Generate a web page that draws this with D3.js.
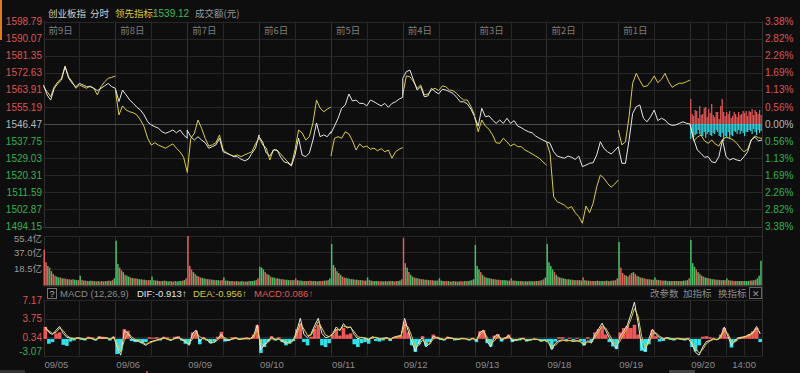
<!DOCTYPE html>
<html><head><meta charset="utf-8">
<script src="https://cdn.jsdelivr.net/npm/d3@7"></script>
<style>
html,body{margin:0;padding:0;background:#0e0e0e;}
svg{display:block;}
text{font-family:"Liberation Sans","Noto Sans CJK SC",sans-serif;}
text.cjk{font-family:"Noto Sans CJK SC","Noto Sans",sans-serif;}
</style></head><body>
<svg id="c" width="800" height="373"></svg>
<script>
// ---------- data ----------
const dayLabels = ["前9日","前8日","前7日","前6日","前5日","前4日","前3日","前2日","前1日"];
const dateLabels = ["09/05","09/06","09/09","09/10","09/11","09/12","09/13","09/18","09/19","09/20"];
const priceTicks = [1598.79,1590.07,1581.35,1572.63,1563.91,1555.19,1546.47,1537.75,1529.03,1520.31,1511.59,1502.87,1494.15];
const pctTicks = ["3.38%","2.82%","2.26%","1.69%","1.13%","0.56%","0.00%","0.56%","1.13%","1.69%","2.26%","2.82%","3.38%"];
const volTicks = [55.4, 37.0, 18.5];
const macdTicks = [7.17, 3.75, 0.34, -3.07];
const prevClose = 1546.47;
const leadLast = "1539.12";

// 创业板指 (white), 21 samples per day
const indexLine = [
 [1566.4,1561.3,1558.7,1564.7,1567.2,1568.9,1575.7,1569.8,1567.2,1565.5,1567.2,1566.4,1565.5,1565.5,1564.7,1563.5,1564.7,1565.9,1567.2,1565.5,1564.7],
 [1564.7,1557.9,1563.8,1561.3,1558.7,1557.0,1555.0,1553.6,1551.1,1547.6,1546.0,1545.1,1544.3,1542.5,1541.7,1542.5,1543.4,1542.0,1543.4,1540.9,1539.2],
 [1543.4,1540.0,1538.3,1540.0,1538.3,1536.9,1534.1,1534.9,1535.8,1539.2,1532.3,1531.5,1530.7,1529.8,1529.8,1528.5,1527.7,1528.5,1531.5,1534.1,1540.9],
 [1540.0,1537.3,1531.7,1530.1,1533.2,1533.2,1529.6,1527.1,1526.6,1525.0,1530.6,1539.3,1530.6,1529.8,1531.7,1538.3,1547.0,1540.0,1540.9,1540.0,1542.5],
 [1541.7,1545.4,1549.4,1554.5,1556.2,1561.8,1558.2,1558.7,1557.0,1557.0,1555.7,1558.7,1557.8,1556.7,1555.7,1557.0,1555.0,1557.0,1557.8,1559.2,1560.1],
 [1569.8,1573.2,1574.0,1568.9,1563.8,1565.5,1560.4,1560.8,1564.7,1563.0,1561.8,1564.2,1563.8,1563.0,1562.1,1560.1,1557.8,1557.8,1556.7,1554.0,1550.2],
 [1550.2,1545.4,1554.5,1550.2,1550.6,1548.5,1546.8,1548.5,1546.8,1549.4,1546.8,1548.2,1545.4,1544.6,1543.4,1542.5,1542.0,1540.3,1539.2,1538.3,1537.4],
 [1537.4,1536.6,1532.3,1530.1,1529.5,1529.0,1530.1,1529.5,1528.4,1530.1,1524.7,1525.5,1526.4,1526.7,1530.7,1537.4,1534.0,1532.3,1531.2,1532.8,1534.9],
 [1534.9,1526.4,1526.4,1538.3,1551.9,1555.3,1556.2,1549.4,1547.6,1550.2,1553.6,1548.2,1549.4,1548.5,1546.5,1545.8,1546.0,1546.8,1547.6,1546.8,1546.47],
 [1546.0,1538.7,1533.2,1531.5,1529.5,1529.8,1527.2,1526.7,1529.8,1538.3,1529.8,1528.1,1528.9,1528.1,1527.7,1529.8,1532.3,1538.3,1539.7,1537.9,1538.3]
];
// 领先指标 (yellow), 21 samples per day
const leadLine = [
 [1565.5,1563.0,1560.4,1565.5,1568.0,1569.8,1576.1,1570.6,1568.0,1564.7,1566.4,1565.5,1564.7,1565.9,1564.7,1561.3,1565.5,1568.0,1569.8,1570.3,1571.0],
 [1563.8,1551.1,1555.7,1553.6,1552.7,1552.2,1551.1,1548.5,1545.1,1539.2,1535.7,1536.9,1535.7,1534.9,1534.1,1535.3,1536.3,1534.1,1532.3,1529.5,1522.1],
 [1521.5,1539.2,1541.7,1548.5,1544.3,1539.2,1535.2,1535.8,1536.9,1540.9,1533.2,1531.8,1530.7,1530.1,1530.7,1529.8,1530.7,1531.5,1532.3,1536.3,1539.2],
 [1539.8,1535.8,1534.2,1528.1,1533.2,1533.2,1531.2,1529.1,1527.1,1525.5,1533.2,1543.4,1541.9,1538.3,1540.0,1547.0,1558.7,1554.6,1552.7,1554.1,1555.1],
 [1530.1,1539.2,1540.0,1539.2,1542.5,1541.4,1537.9,1533.2,1536.3,1534.6,1535.2,1533.6,1534.1,1532.8,1533.9,1532.3,1533.2,1529.0,1532.3,1533.6,1534.4],
 [1561.3,1571.0,1570.6,1568.1,1564.7,1566.4,1561.3,1561.8,1563.8,1564.7,1563.5,1565.9,1565.5,1563.8,1563.5,1562.1,1560.1,1558.7,1558.7,1555.3,1551.1],
 [1550.2,1542.5,1548.5,1545.4,1543.8,1540.9,1536.9,1536.6,1539.2,1537.4,1535.2,1536.3,1534.9,1534.9,1533.2,1532.3,1531.2,1530.1,1529.0,1527.2,1525.5],
 [1537.4,1531.5,1509.4,1506.8,1506.0,1505.1,1503.4,1504.3,1501.2,1499.2,1495.8,1504.6,1501.2,1506.0,1514.5,1520.4,1518.8,1516.2,1514.2,1515.8,1517.9],
 [1543.4,1535.8,1537.4,1550.2,1567.3,1572.3,1568.6,1565.5,1565.9,1568.1,1571.0,1567.6,1569.3,1572.3,1568.1,1565.2,1566.4,1567.3,1567.3,1568.1,1568.9],
 [1546.0,1537.9,1539.7,1540.9,1537.9,1536.6,1538.3,1536.3,1535.2,1538.7,1539.7,1539.2,1538.3,1536.6,1534.1,1532.3,1533.6,1538.3,1540.4,1539.5,1539.12]
];
// today's buy (red, up) / sell (cyan, down) strength bars
const todayUp = [25,10,8,14,13,6,18,9,10,16,17,7,15,11,20,9,7,12,12,5,18,25,12,8,12,10,13,6,8,12,10,7,12,9,10,13,11,13,8,13,12,15,9,14,12,10,14,9];
const todayDown = [15,9,13,11,10,6,10,12,12,8,14,10,8,11,12,9,10,6,8,12,13,9,17,12,13,8,15,11,12,7,8,10,6,10,7,9,12,8,8,6,7,10,5,8,11,6,9,7];

// 成交额 (亿), 40 bars per day
const volume = [
 [40,26,22,20,16,13,11,10,9,9,8,8,7.5,7,7,6.5,7,6.5,6,6,11,6,5.5,5.5,5,5,5.5,5,5,4.5,5,4.5,5,4.5,5,5,5.5,5,6,8],
 [50,24,20,17,15,12,11,10,9,8.5,8,8,7.5,7,7,6.5,6.5,6,6,6,10,6,5.5,5.5,5,5,5,5.5,5,4.5,5,4.5,4.5,5,4.5,5,5,5.5,6,8],
 [55.4,22,18,15,13,11,10,9,8.5,8,7.5,7,7,6.5,6.5,6,6,6,5.5,6,9,5.5,5.5,5,5,5,4.5,5,4.5,4.5,5,4.5,4.5,4.5,5,5,5,5.5,6,8],
 [21,20,18,15,13,12,10,9,9,8,8,7.5,7,7,6.5,6.5,6,6,6,6,8,6,5.5,5.5,5,5,5,5,5.5,5,5,5,4.5,5,5,5,5.5,5.5,6,8],
 [46.5,23,20,16,14,12,10,9,8.5,8,7.5,7,7,6.5,6.5,6,6,6,5.5,5.5,9,6,5.5,5,5,5,5,4.5,5,4.5,5,4.5,5,5,5,4.5,5,5,5.5,7],
 [53,25,20,15,12,10,9,8.5,8,7.5,7,7,6.5,6.5,6,6,6,5.5,5.5,5.5,8,5.5,5,5,5,5,4.5,4.5,5,4.5,4.5,4.5,5,4.5,5,5,5,5.5,6,7],
 [45.4,22,18,15,12,10,9,8.5,8,7.5,7,7,6.5,6.5,6,6,6,6,5.5,5.5,8,5.5,5.5,5,5,5,5,4.5,5,4.5,5,5,4.5,5,5,5,5.5,6,7,9],
 [46.5,26,22,18,15,12,10,9,8.5,8,7.5,7,7,6.5,6.5,6,6,6,6,5.5,9,6,5.5,5.5,5,5,5,5,5.5,5,5,5,5,5.5,5,5,5.5,5.5,6,8],
 [48.7,20,14,12,11,10,12,14,15,13,11,10,9,8.5,8,7.5,7,7,6.5,6.5,9,6.5,6,6,5.5,5.5,5.5,5,5,5,5,5,5,5,5,5,5.5,5.5,6,8],
 [51,25,21,18,15,13,11,10,9,8.5,8,7.5,7,7,6.5,6.5,6,6,6,6,8,6,5.5,5.5,5,5,5,5,5,5,5,5,5,5.5,5.5,6,6.5,8,11,27.7]
];
// bar direction per day: r = up, g = down
const volumeDir = [
 "rrgrgrrggrgrrgrgrggrgrgrrggrgrgrrgrgrgrg",
 "ggrrgrggrgrrgggrgrrggrggrrgrggrgrrgggrgr",
 "rrrgrgrrggrgrrgrggrrgrgrgrrgrggrrgrgggrr",
 "gggrrgrggrgrgrrggrgrrgrggrgrrgrgrgrrgrgg",
 "ggrgrgrrggrggrgrgrrggrgrggrrgrgrgrgrrggr",
 "rrgrggrgrrgrgrgrrggrgggrrgrgrgrgrrgrggrg",
 "gggrgrggrggrgrrgggrgrgrggrgrggrggrgrgrrg",
 "ggggrgrgrggrggrgrrggrgrgrrgrgrggrgrgrgrr",
 "grrrgrrrgrrgrgrrgrgrgrgrrggrggrgrgrggrgr",
 "gggrgrgrggrggrgrgrgrgrgrrgrggrgggrgrrggg"
];

// MACD, 20 samples per day
const macdDif = [
 [2.2,1.2,0.8,1.6,2.3,1.0,0.3,0.1,0.0,0.2,0.1,-0.1,0.2,0.0,-0.2,0.3,0.1,0.2,-0.1,0.4],
 [-1.5,-3.0,1.5,1.0,0.0,-0.3,-0.5,-0.8,-1.2,-0.6,-0.4,-0.2,0.0,0.2,-0.1,-0.3,0.1,0.3,-0.2,-0.5],
 [-1.2,1.0,1.6,-0.5,0.2,-0.2,-0.8,-0.6,0.0,0.9,-0.2,-0.3,0.0,0.2,-0.1,0.0,0.1,0.0,0.6,2.6],
 [-2.0,-1.0,-0.3,0.3,-0.2,0.0,-0.5,-0.8,-0.6,-0.3,1.5,3.8,0.8,0.2,1.0,2.5,3.8,1.0,0.2,0.4],
 [1.0,2.2,1.5,2.8,2.0,2.2,0.8,0.0,0.3,0.1,-0.2,0.4,0.2,0.0,0.1,0.2,-0.1,0.3,0.5,0.6],
 [3.8,1.5,-0.5,-2.3,-0.5,0.2,-1.5,-0.8,0.5,0.2,0.0,-0.2,0.3,0.1,0.0,-0.1,0.1,0.0,-0.2,0.1],
 [-0.3,1.2,1.6,-0.5,-1.5,0.4,0.8,-0.3,0.2,0.6,-0.4,-0.2,0.0,0.1,-0.3,-0.2,0.0,-0.1,-0.4,-0.3],
 [-0.6,-2.0,-0.8,-0.3,-0.2,-0.4,-0.3,-0.5,-0.3,-0.6,-1.2,-0.3,-0.8,0.8,1.8,2.9,1.5,0.2,-1.0,-1.8],
 [0.5,1.5,2.5,4.5,6.8,3.0,-1.5,-2.3,0.0,1.8,0.8,0.2,0.0,0.2,0.1,-0.1,0.1,0.0,-0.1,0.0],
 [-1.0,-2.5,-3.0,-1.5,-0.5,-0.3,0.0,-0.2,0.5,2.2,0.5,-1.2,-0.3,0.2,0.3,0.5,0.8,1.2,2.3,0.9]
];
const macdDea = [
 [1.8,1.5,1.0,1.2,2.0,1.5,0.6,0.2,0.1,0.1,0.1,0.0,0.1,0.1,-0.1,0.1,0.2,0.1,0.0,0.2],
 [-0.8,-2.4,-0.3,1.1,0.4,-0.1,-0.4,-0.6,-1.0,-0.8,-0.5,-0.3,-0.1,0.1,0.0,-0.2,0.0,0.2,0.0,-0.3],
 [-0.9,0.0,1.2,0.4,0.0,-0.1,-0.5,-0.7,-0.2,0.5,0.2,-0.2,-0.1,0.1,0.0,0.0,0.0,0.0,0.3,1.8],
 [-0.8,-1.2,-0.6,0.0,0.0,-0.1,-0.3,-0.6,-0.7,-0.4,0.8,2.8,1.8,0.6,0.7,1.9,3.2,2.0,0.7,0.4],
 [0.8,1.7,1.7,2.3,2.2,2.1,1.3,0.4,0.2,0.2,0.0,0.2,0.3,0.1,0.1,0.1,0.0,0.2,0.4,0.5],
 [2.6,2.2,0.5,-1.5,-1.2,-0.2,-0.9,-1.0,0.0,0.3,0.1,-0.1,0.1,0.2,0.0,0.0,0.0,0.0,-0.1,0.0],
 [-0.2,0.7,1.4,0.3,-1.0,-0.4,0.5,0.1,0.0,0.4,0.0,-0.3,-0.1,0.0,-0.2,-0.2,-0.1,-0.1,-0.3,-0.3],
 [-0.5,-1.4,-1.2,-0.5,-0.3,-0.3,-0.3,-0.4,-0.4,-0.5,-0.9,-0.6,-0.6,0.2,1.3,2.4,2.0,0.8,-0.4,-1.3],
 [-0.4,0.9,2.0,3.6,5.6,4.2,0.5,-1.6,-0.8,1.0,1.1,0.5,0.1,0.1,0.1,0.0,0.0,0.0,0.0,0.0],
 [-0.6,-1.8,-2.6,-2.0,-0.9,-0.4,-0.1,-0.1,0.2,1.6,1.0,-0.5,-0.6,0.0,0.2,0.4,0.6,1.0,1.9,1.2]
];
const macdHist = [
 [2.2,-0.9,-0.6,1.0,1.2,-1.1,-1.3,-0.5,-0.3,0.3,-0.2,-0.3,0.4,0.3,-0.3,0.5,0.4,0.3,-0.3,0.4],
 [-2.8,-2.2,1.8,1.5,-0.4,-0.6,-0.5,-0.8,-0.6,0.3,0.2,0.3,-0.3,0.4,0.3,-0.2,0.4,0.5,-0.3,-0.9],
 [-1.0,1.2,1.5,-1.0,0.3,-0.3,-0.8,-0.5,0.4,1.3,-0.5,-0.4,0.3,0.3,-0.2,0.2,0.3,0.2,0.8,2.5],
 [-2.6,-1.5,-0.5,0.5,-0.3,0.3,-0.6,-1.2,-0.9,-0.4,1.8,2.8,-0.6,-1.2,0.4,1.8,2.6,-1.2,-1.5,-0.8],
 [0.8,1.8,0.6,2.0,0.8,1.0,-1.0,-1.5,-0.8,-0.6,-0.9,0.3,-0.4,-0.5,-0.3,0.3,-0.4,0.3,0.5,0.6],
 [3.2,1.2,-1.2,-2.4,-1.0,0.5,-1.3,-0.6,0.8,0.4,-0.2,-0.3,0.4,0.2,-0.3,-0.2,0.2,0.1,-0.3,0.2],
 [-0.6,1.4,1.6,-0.8,-1.4,0.6,0.9,-0.5,0.3,0.8,-0.6,-0.4,-0.3,0.2,-0.5,-0.3,-0.2,-0.2,-0.5,-0.4],
 [-0.5,-1.8,-0.5,0.3,0.3,-0.2,0.2,-0.3,0.2,-0.4,-1.2,0.3,-0.6,1.2,1.8,2.2,0.8,-0.6,-1.4,-1.9],
 [1.2,2.0,2.4,2.0,2.6,0.8,-2.2,-2.4,-1.0,1.6,0.5,-0.5,-0.4,0.3,-0.2,-0.3,0.2,-0.2,-0.3,0.2],
 [-1.5,-2.3,-1.2,0.4,0.5,0.3,0.2,-0.2,0.8,2.0,0.4,-1.6,-0.4,0.3,0.4,0.5,0.9,1.4,2.0,-0.6]
];

// ---------- chart ----------
const W = 800, H = 373;
const svg = d3.select("#c");
svg.append("rect").attr("width", W).attr("height", H).attr("fill", "#0e0e0e");

const L = 43.5, R = 762;
const x = d3.scaleLinear().domain([0, 10]).range([L, R]);
const yP = d3.scaleLinear().domain([1494.15, 1598.79]).range([226.5, 21.5]);
const yV = d3.scaleLinear().domain([0, 55.4]).range([285.5, 236]);
const yM = d3.scaleLinear().domain([-3.07, 7.17]).range([355.5, 300]);
const hT = d3.scaleLinear().domain([0, 30]).range([0, 30]);

const RED = "#de5452", GREEN = "#36b04e", GRID = "#272727", GRIDD = "#2f2f2f";
const FONT = "10px";

function label(xp, yp, txt, color, size, cjk, anchor) {
  const t = svg.append("text").attr("x", xp).attr("y", yp).attr("font-size", size)
    .attr("fill", color).text(txt);
  if (cjk) t.attr("class", "cjk");
  if (anchor) t.attr("text-anchor", anchor);
  return t;
}

// orange marker at left
svg.append("rect").attr("x", 0).attr("y", 0).attr("width", 2).attr("height", 40).attr("fill", "#e07a1c");

// vertical grid positions (in day units)
const vgrid = d3.range(0, 10.001, 0.5).concat([9.25, 9.75]);
function vGrid(y0, y1) {
  svg.append("g").selectAll("line").data(vgrid).join("line")
    .attr("x1", d => Math.round(x(d)) + 0.5).attr("x2", d => Math.round(x(d)) + 0.5)
    .attr("y1", y0).attr("y2", y1)
    .attr("stroke", d => (d % 1 === 0 ? GRIDD : GRID)).attr("stroke-width", 1);
}

// ---- main panel ----
vGrid(21.5, 226.5);
svg.append("g").selectAll("line").data(priceTicks).join("line")
  .attr("x1", L).attr("x2", R)
  .attr("y1", d => Math.round(yP(d)) + 0.5).attr("y2", d => Math.round(yP(d)) + 0.5)
  .attr("stroke", d => (d === prevClose ? "#4d4d4d" : GRID));

// header
label(48, 17, "创业板指", "#cfcfc0", "9.5px", true);
label(90, 17, "分时", "#cfcfcf", "9.5px", true);
label(115, 17, "领先指标:", "#d6c93a", "9.5px", true);
label(153, 17, leadLast, "#3fb95a", "10px");
label(195, 17, "成交额(元)", "#9a9a9a", "9.5px", true);

// day labels
svg.append("g").selectAll("text").data(dayLabels).join("text")
  .attr("class", "cjk")
  .attr("x", (d, i) => x(i) + 5).attr("y", 34).attr("font-size", "9.5px")
  .attr("fill", "#7d7d7d").text(d => d);

// left price labels
svg.append("g").selectAll("text").data(priceTicks).join("text")
  .attr("x", 42).attr("y", d => yP(d) - (d === 1494.15 ? 0.5 : 0)).attr("dy", "0.36em").attr("text-anchor", "end")
  .attr("font-size", FONT)
  .attr("fill", d => d > prevClose ? RED : d < prevClose ? GREEN : "#b8b8b8")
  .text(d => d.toFixed(2));
// right percent labels
svg.append("g").selectAll("text").data(pctTicks).join("text")
  .attr("x", 765).attr("y", (d, i) => yP(priceTicks[i])).attr("dy", "0.36em")
  .attr("font-size", FONT)
  .attr("fill", (d, i) => i < 6 ? RED : i > 6 ? GREEN : "#b8b8b8")
  .text(d => d);

// today's strength bars
const y0 = yP(prevClose);
const tStep = (x(10) - x(9)) / todayUp.length;
svg.append("g").selectAll("rect").data(todayUp).join("rect")
  .attr("x", (d, i) => x(9 + i / todayUp.length)).attr("width", tStep * 0.8)
  .attr("y", d => y0 - hT(d)).attr("height", d => hT(d)).attr("fill", "#e85858");
svg.append("g").selectAll("rect").data(todayDown).join("rect")
  .attr("x", (d, i) => x(9 + i / todayDown.length)).attr("width", tStep * 0.8)
  .attr("y", y0).attr("height", d => hT(d)).attr("fill", "#30d8e2");

// lines
const pLine = d3.line().x(d => x(d[0])).y(d => yP(d[1]));
const whitePts = [];
indexLine.forEach((day, di) => day.forEach((v, i) => whitePts.push([di + i / 20, v])));
leadLine.forEach((day, di) => {
  svg.append("path").attr("d", pLine(day.map((v, i) => [di + i / 20, v])))
    .attr("fill", "none").attr("stroke", "#dccd3c").attr("stroke-width", 1);
});
svg.append("path").attr("d", pLine(whitePts)).attr("fill", "none")
  .attr("stroke", "#e6e6e6").attr("stroke-width", 1);

// main frame
svg.append("line").attr("x1", L).attr("x2", R).attr("y1", 227.5).attr("y2", 227.5).attr("stroke", "#3a3a3a");
svg.append("line").attr("x1", R + 0.5).attr("x2", R + 0.5).attr("y1", 21).attr("y2", 356).attr("stroke", "#333");

// ---- volume panel ----
vGrid(236, 285.5);
svg.append("g").selectAll("line").data(volTicks).join("line")
  .attr("x1", L).attr("x2", R)
  .attr("y1", d => Math.round(yV(d)) + 0.5).attr("y2", d => Math.round(yV(d)) + 0.5)
  .attr("stroke", GRID);
const vStep = (x(1) - x(0)) / 40;
volume.forEach((day, di) => {
  svg.append("g").selectAll("rect").data(day).join("rect")
    .attr("x", (d, i) => x(di + i / 40)).attr("width", vStep - 0.3)
    .attr("y", d => yV(d)).attr("height", d => yV(0) - yV(d))
    .attr("fill", (d, i) => volumeDir[di][i] === "r" ? "#e0615a" : "#45c266");
});
svg.append("g").selectAll("text").data(volTicks).join("text")
  .attr("x", 42).attr("y", (d, i) => yV(d) + (i === 0 ? 2.5 : 0)).attr("dy", "0.36em").attr("text-anchor", "end")
  .attr("font-size", "9.5px").attr("fill", "#9a9a9a").text(d => d.toFixed(1) + "亿");
svg.append("line").attr("x1", L).attr("x2", R).attr("y1", 286).attr("y2", 286).attr("stroke", "#3a3a3a");

// ---- MACD panel ----
vGrid(300, 355.5);
svg.append("g").selectAll("line").data(macdTicks).join("line")
  .attr("x1", L).attr("x2", R)
  .attr("y1", d => Math.round(yM(d)) + 0.5).attr("y2", d => Math.round(yM(d)) + 0.5)
  .attr("stroke", GRID);

// MACD header
svg.append("rect").attr("x", 47.5).attr("y", 288.5).attr("width", 9).attr("height", 10)
  .attr("fill", "none").attr("stroke", "#777");
label(52, 297, "?", "#bbb", "9px", false, "middle");
label(60, 297, "MACD (12,26,9)", "#8c8c8c", "9.5px");
label(137, 297, "DIF:-0.913↑", "#e6e6e6", "9.5px");
label(193, 297, "DEA:-0.956↑", "#d6c93a", "9.5px");
label(254, 297, "MACD:0.086↑", "#e05a55", "9.5px");
label(650, 297, "改参数", "#8c8c8c", "9.5px", true);
label(683, 297, "加指标", "#8c8c8c", "9.5px", true);
label(718, 297, "换指标", "#8c8c8c", "9.5px", true);
svg.append("rect").attr("x", 749.5).attr("y", 287.5).attr("width", 12).attr("height", 11)
  .attr("fill", "none").attr("stroke", "#666");
label(755.5, 296.5, "✕", "#999", "9px", false, "middle");

// histogram
const mStep = (x(1) - x(0)) / 20;
macdHist.forEach((day, di) => {
  svg.append("g").selectAll("rect").data(day).join("rect")
    .attr("x", (d, i) => x(di + i / 20)).attr("width", mStep)
    .attr("y", d => d >= 0 ? yM(d) : yM(0))
    .attr("height", d => Math.abs(yM(d) - yM(0)))
    .attr("fill", d => d >= 0 ? "#ef5858" : "#2fe2ec");
});
const mLine = d3.line().x(d => x(d[0])).y(d => yM(d[1]));
const difPts = [], deaPts = [];
macdDif.forEach((day, di) => day.forEach((v, i) => difPts.push([di + (i + 0.5) / 20, v])));
macdDea.forEach((day, di) => day.forEach((v, i) => deaPts.push([di + (i + 0.5) / 20, v])));
svg.append("path").attr("d", mLine(difPts)).attr("fill", "none").attr("stroke", "#e8e8e8").attr("stroke-width", 1);
svg.append("path").attr("d", mLine(deaPts)).attr("fill", "none").attr("stroke", "#dccd3c").attr("stroke-width", 1);

svg.append("g").selectAll("text").data(macdTicks).join("text")
  .attr("x", 42).attr("y", (d, i) => i === 3 ? yM(d) - 4 : yM(d)).attr("dy", "0.36em")
  .attr("text-anchor", "end").attr("font-size", FONT)
  .attr("fill", d => d > 0 ? RED : GREEN).text(d => d.toFixed(2));

// date axis
svg.append("g").selectAll("text").data(dateLabels).join("text")
  .attr("x", (d, i) => x(i) + 1).attr("y", 368).attr("font-size", "9.5px")
  .attr("fill", "#8a8a8a").text(d => d);
svg.append("text").attr("x", x(9.75)).attr("y", 368).attr("text-anchor", "middle")
  .attr("font-size", "9.5px").attr("fill", "#8a8a8a").text("14:00");

// bottom scroller bits
svg.append("rect").attr("x", 0).attr("y", 370).attr("width", 25).attr("height", 3).attr("fill", "#333");
svg.append("rect").attr("x", 669).attr("y", 370).attr("width", 26).attr("height", 3).attr("fill", "#444");
svg.append("rect").attr("x", 146).attr("y", 371).attr("width", 2).attr("height", 2).attr("fill", "#c04040");
</script>
</body></html>
